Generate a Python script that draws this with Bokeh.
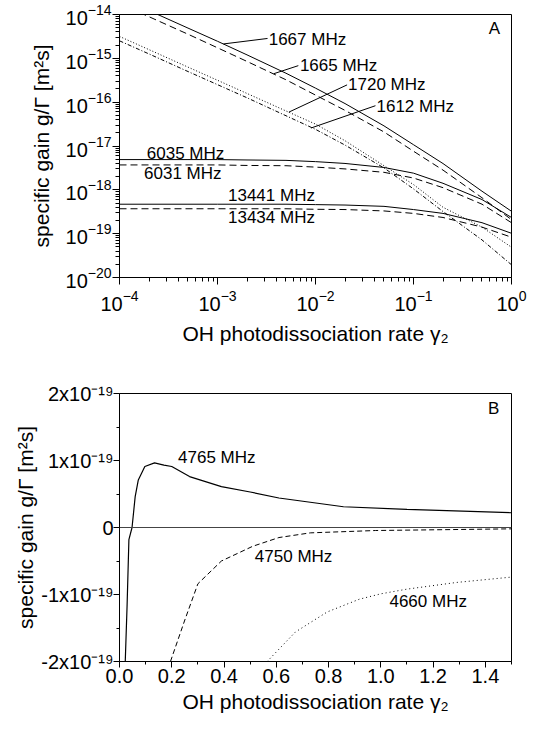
from bokeh.plotting import figure
from bokeh.layouts import column
from bokeh.models import FixedTicker, Range1d, Span, CustomJSTickFormatter
from bokeh.core.properties import value
from bokeh.embed import file_html
from bokeh.resources import INLINE

FONT = "Liberation Sans"

# ---------------- Panel A data (log-log) ----------------
gamma_a = [1e-4, 2e-4, 5e-4, 1e-3, 2e-3, 5e-3, 1e-2, 2e-2, 5e-2, 0.1, 0.2, 0.5, 1.0]
g1667 = [2.40e-14, 1.23e-14, 4.9e-15, 2.45e-15, 1.20e-15, 4.57e-16, 2.09e-16, 9.3e-17, 2.88e-17, 1.07e-17, 3.98e-18, 9.3e-19, 3.24e-19]
g1665 = [1.78e-14, 8.9e-15, 3.55e-15, 1.74e-15, 8.5e-16, 3.24e-16, 1.45e-16, 6.5e-17, 2.09e-17, 7.6e-18, 2.82e-18, 6.6e-19, 2.09e-19]
g1720 = [3.16e-15, 1.58e-15, 6.3e-16, 3.16e-16, 1.58e-16, 6.3e-17, 3.16e-17, 1.32e-17, 3.55e-18, 1.32e-18, 4.0e-19, 1.41e-19, 4.9e-20]
g1612 = [2.51e-15, 1.26e-15, 5.0e-16, 2.51e-16, 1.26e-16, 4.9e-17, 2.40e-17, 1.05e-17, 3.16e-18, 1.05e-18, 3.2e-19, 7.2e-20, 1.95e-20]
g6035 = [4.9e-18, 4.9e-18, 4.9e-18, 4.9e-18, 4.8e-18, 4.7e-18, 4.4e-18, 4.0e-18, 3.24e-18, 2.40e-18, 1.41e-18, 6.0e-19, 2.34e-19]
g6031 = [3.7e-18, 3.7e-18, 3.7e-18, 3.7e-18, 3.6e-18, 3.55e-18, 3.3e-18, 3.0e-18, 2.51e-18, 1.86e-18, 1.12e-18, 4.7e-19, 1.78e-19]
g13441 = [4.7e-19, 4.7e-19, 4.7e-19, 4.7e-19, 4.7e-19, 4.7e-19, 4.6e-19, 4.5e-19, 4.2e-19, 3.55e-19, 2.9e-19, 1.78e-19, 1.02e-19]
g13434 = [3.7e-19, 3.7e-19, 3.7e-19, 3.7e-19, 3.7e-19, 3.7e-19, 3.6e-19, 3.55e-19, 3.3e-19, 2.9e-19, 2.34e-19, 1.41e-19, 8.3e-20]

a_xticks = [1e-4, 1e-3, 1e-2, 1e-1, 1.0]
a_yticks = [1e-20, 1e-19, 1e-18, 1e-17, 1e-16, 1e-15, 1e-14]

# labels of panel A (text, anchor x, anchor y)
a_labels = ["1667 MHz", "1665 MHz", "1720 MHz", "1612 MHz", "6035 MHz", "6031 MHz", "13441 MHz", "13434 MHz", "A"]
a_lab_x = [3.33e-3, 6.93e-3, 2.15e-2, 4.19e-2, 1.9e-4, 1.78e-4, 1.28e-3, 1.28e-3, 0.587]
a_lab_y = [2.73e-15, 6.81e-16, 2.48e-16, 8.0e-17, 6.9e-18, 2.35e-18, 7.5e-19, 2.32e-19, 4.7e-15]
# leader lines of panel A
a_ptr_x0 = [1.15e-3, 3.75e-3, 5.35e-3, 8.99e-3]
a_ptr_y0 = [2.13e-15, 4.46e-16, 5.93e-17, 2.57e-17]
a_ptr_x1 = [3.24e-3, 6.68e-3, 2.10e-2, 4.09e-2]
a_ptr_y1 = [2.84e-15, 6.81e-16, 2.48e-16, 8.3e-17]

# ---------------- Panel B data (linear) ----------------
x4765 = [0.022, 0.029, 0.036, 0.048, 0.06, 0.072, 0.097, 0.134, 0.17, 0.2, 0.268, 0.39, 0.5, 0.61, 0.857, 1.1, 1.5]
g4765 = [-2.0e-19, -1.17e-19, -0.18e-19, 0.0, 0.46e-19, 0.71e-19, 0.91e-19, 0.965e-19, 0.93e-19, 0.91e-19, 0.76e-19, 0.61e-19, 0.53e-19, 0.44e-19, 0.31e-19, 0.27e-19, 0.22e-19]
x4750 = [0.195, 0.25, 0.3, 0.39, 0.51, 0.61, 0.73, 0.98, 1.5]
g4750 = [-2.0e-19, -1.38e-19, -0.84e-19, -0.5e-19, -0.28e-19, -0.15e-19, -0.08e-19, -0.045e-19, -0.02e-19]
x4660 = [0.565, 0.673, 0.795, 0.918, 1.0, 1.1, 1.29, 1.5]
g4660 = [-2.0e-19, -1.56e-19, -1.26e-19, -1.07e-19, -0.99e-19, -0.92e-19, -0.82e-19, -0.74e-19]

b_xticks = [0.0, 0.2, 0.4, 0.6, 0.8, 1.0, 1.2, 1.4]
b_xminor = [0.1, 0.3, 0.5, 0.7, 0.9, 1.1, 1.3, 1.5]
b_yticks = [-2e-19, -1e-19, 0.0, 1e-19, 2e-19]
b_yminor = [-1.5e-19, -0.5e-19, 0.5e-19, 1.5e-19]

b_labels = ["4765 MHz", "4750 MHz", "4660 MHz", "B"]
b_lab_x = [0.224, 0.518, 1.033, 1.41]
b_lab_y = [1.04e-19, -0.43e-19, -1.10e-19, 1.78e-19]

YLABEL = "specific gain g/\u0393 [m\u00b2s]"
XLABEL = "OH photodissociation rate \u03b3\u2082"


def style_axes(p, tick_out, minor_out):
    for ax in (p.xaxis[0], p.yaxis[0]):
        ax.axis_line_color = "black"
        ax.axis_line_width = 1
        ax.major_tick_out = tick_out
        ax.major_tick_in = 0
        ax.minor_tick_out = minor_out
        ax.minor_tick_in = 0
        ax.major_tick_line_color = "black"
        ax.minor_tick_line_color = "black"
        ax.major_label_text_font = FONT
        ax.major_label_text_font_size = "20px"
        ax.major_label_text_color = "black"
        ax.axis_label_text_font = FONT
        ax.axis_label_text_font_size = "21px"
        ax.axis_label_text_font_style = "normal"
        ax.axis_label_text_color = "black"
    p.grid.visible = False
    p.outline_line_color = "black"
    p.outline_line_width = 1
    p.outline_line_alpha = 1.0
    p.background_fill_color = "white"
    p.border_fill_color = "white"


# ---------------- Panel A ----------------
p1 = figure(width=527, height=347, x_axis_type="log", y_axis_type="log",
            x_range=Range1d(1e-4, 1.0), y_range=Range1d(1e-20, 1e-14),
            output_backend="svg", toolbar_location=None,
            min_border_left=96, min_border_right=16, min_border_top=14, min_border_bottom=67)
style_axes(p1, 7, 4)
p1.xaxis.ticker = FixedTicker(ticks=a_xticks, minor_ticks=[m * t for t in a_xticks[:-1] for m in range(2, 10)])
p1.yaxis.ticker = FixedTicker(ticks=a_yticks, minor_ticks=[m * t for t in a_yticks[:-1] for m in range(2, 10)])
p1.xaxis.axis_label = XLABEL
p1.yaxis.axis_label = YLABEL
p1.xaxis.major_label_standoff = 5
p1.xaxis.axis_label_standoff = 8
p1.yaxis.major_label_standoff = 1
p1.yaxis.axis_label_standoff = 10

p1.line(gamma_a, g1667, line_color="black", line_width=1)
p1.line(gamma_a, g1665, line_color="black", line_width=1, line_dash="7 4")
p1.line(gamma_a, g1720, line_color="black", line_width=1, line_dash="1 2")
p1.line(gamma_a, g1612, line_color="black", line_width=1, line_dash="4 2 1 2")
p1.line(gamma_a, g6035, line_color="black", line_width=1)
p1.line(gamma_a, g6031, line_color="black", line_width=1, line_dash="7 4")
p1.line(gamma_a, g13441, line_color="black", line_width=1)
p1.line(gamma_a, g13434, line_color="black", line_width=1, line_dash="7 4")
p1.segment(a_ptr_x0, a_ptr_y0, a_ptr_x1, a_ptr_y1, line_color="black", line_width=1)
p1.text(a_lab_x, a_lab_y, text=a_labels, text_font=value(FONT), text_font_size="17px",
        text_baseline="middle", text_align="left", text_color="black")

# ---------------- Panel B ----------------
p2 = figure(width=527, height=368,
            x_range=Range1d(0.0, 1.5), y_range=Range1d(-2e-19, 2e-19),
            output_backend="svg", toolbar_location=None,
            min_border_left=119, min_border_right=2, min_border_top=46, min_border_bottom=52)
style_axes(p2, 6, 3)
p2.xaxis.ticker = FixedTicker(ticks=b_xticks, minor_ticks=b_xminor)
p2.yaxis.ticker = FixedTicker(ticks=b_yticks, minor_ticks=b_yminor)
p2.xaxis.formatter = CustomJSTickFormatter(code="return tick.toFixed(1);")
p2.yaxis.formatter = CustomJSTickFormatter(code="""
const m = Math.round(tick / 1e-19);
if (m === 0) { return '0'; }
return m + 'x10\u207b\u00b9\u2079';
""")
p2.xaxis.axis_label = XLABEL
p2.yaxis.axis_label = YLABEL
p2.xaxis.major_label_standoff = 1
p2.xaxis.axis_label_standoff = 4
p2.yaxis.major_label_standoff = 0
p2.yaxis.axis_label_standoff = 1

p2.add_layout(Span(location=0.0, dimension="width", line_color="#444444", line_width=1))
p2.line(x4765, g4765, line_color="black", line_width=1.2)
p2.line(x4750, g4750, line_color="black", line_width=1, line_dash="5 3")
p2.line(x4660, g4660, line_color="black", line_width=1, line_dash="1 3")
p2.text(b_lab_x, b_lab_y, text=b_labels, text_font=value(FONT), text_font_size="17px",
        text_baseline="middle", text_align="left", text_color="black")

layout = column(p1, p2, spacing=0)
open("out.html", "w").write(file_html(layout, INLINE))
